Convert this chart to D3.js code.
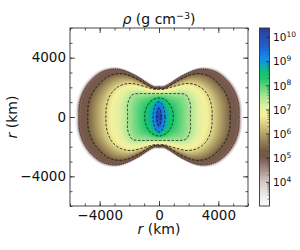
<!DOCTYPE html>
<html>
<head>
<meta charset="utf-8">
<script src="https://cdn.jsdelivr.net/npm/d3@7"></script>
<style>
body { margin: 0; background: #fff; }
svg { font-family: "DejaVu Sans", sans-serif; }
</style>
</head>
<body>
<div id="chart"></div>
<script>
// contour shapes: radius (km) at polar angles of the first quadrant, mirrored to the others
var angles = [0, 10, 20, 30, 40, 50, 60, 70, 80, 90];
var levels = [3.0, 4.85, 5.35, 6.5, 7.5, 8.3, 8.95, 9.7];   // log10 rho of each shape
var centerLevel = 10.3;
var edgeR = [5640, 5670, 5590, 5390, 5060, 4430, 3460, 2680, 2250, 2190];
var c48R  = [5400, 5430, 5350, 5150, 4820, 4200, 3250, 2480, 2080, 2030];
var c53R  = [4800, 4830, 4760, 4580, 4330, 3800, 2950, 2270, 1950, 1930];
var c65R  = [3580, 3610, 3620, 3550, 3330, 2950, 2450, 2100, 1900, 1850];
var c75R  = [2120, 2150, 2260, 2330, 2340, 2060, 1820, 1680, 1600, 1580];
var c83R  = [970, 976, 995, 1026, 1068, 1120, 1176, 1228, 1266, 1280];
var c90R  = [400, 405, 421, 450, 496, 564, 662, 796, 944, 1020];
var c97R  = [150, 152, 159, 171, 191, 223, 274, 357, 487, 580];

// colour map (log10 rho -> colour)
var cmapLevels = [3.0, 3.5, 4.0, 4.5, 5.0, 5.3, 5.6, 6.0, 6.4, 6.75, 7.1, 7.5, 7.9, 8.3, 8.6, 8.9, 9.2, 9.6, 10.0, 10.37];
var cmapColors = ["#fbfbfb", "#ece8e8", "#d3c7c5", "#a89089", "#77584d", "#745a45", "#8f7a52", "#b5a468",
                  "#d9cf86", "#f5f19a", "#e2f0a2", "#b0e696", "#6bd67d", "#1ec56a", "#12be7c", "#0c9fd0",
                  "#1285ee", "#1f62cc", "#2a4cb3", "#2a3c95"];

var axisDomain = [-6000, 6000];
var majorTicks = [-4000, 0, 4000];
var minorTicks = d3.range(-6000, 6001, 1000);
var cbDomain = [1e3, Math.pow(10, 10.37)];
var cbTicks = [1e4, 1e5, 1e6, 1e7, 1e8, 1e9, 1e10];

var shapes = [edgeR, c48R, c53R, c65R, c75R, c83R, c90R, c97R];

var plot = { left: 70, top: 28, size: 178 };
var bar = { left: 259.5, width: 10 };

var svg = d3.select("#chart").append("svg")
    .attr("width", 300)
    .attr("height", 250);

var x = d3.scaleLinear().domain(axisDomain).range([plot.left, plot.left + plot.size]);
var y = d3.scaleLinear().domain(axisDomain).range([plot.top + plot.size, plot.top]);

var color = d3.scaleLinear().domain(cmapLevels).range(cmapColors)
    .interpolate(d3.interpolateRgb).clamp(true);

// Catmull-Rom in angle, with mirror symmetry at 0 and 90 degrees
function radiusAt(rs, deg) {
    var t = deg / 10, i = Math.min(Math.floor(t), angles.length - 2), f = t - i;
    function at(k) { if (k < 0) k = -k; if (k > 9) k = 18 - k; return rs[k]; }
    var p0 = at(i - 1), p1 = at(i), p2 = at(i + 1), p3 = at(i + 2);
    return 0.5 * (2 * p1 + (-p0 + p2) * f + (2 * p0 - 5 * p1 + 4 * p2 - p3) * f * f +
        (-p0 + 3 * p1 - 3 * p2 + p3) * f * f * f);
}

function quadAngle(px, py) {
    var a = Math.abs(Math.atan2(py, px)) * 180 / Math.PI;
    return a > 90 ? 180 - a : a;
}

function valueAt(px, py) {
    var r = Math.hypot(px, py);
    var q = quadAngle(px, py);
    var radii = shapes.map(function(s) { return radiusAt(s, q); });
    if (r >= radii[0]) return null;
    for (var k = 0; k < radii.length - 1; k++) {
        if (r >= radii[k + 1]) {
            return levels[k] + (levels[k + 1] - levels[k]) * (radii[k] - r) / (radii[k] - radii[k + 1]);
        }
    }
    var last = radii.length - 1;
    return levels[last] + (centerLevel - levels[last]) * (1 - r / radii[last]);
}

// density image
var canvas = document.createElement("canvas");
canvas.width = plot.size;
canvas.height = plot.size;
var ctx = canvas.getContext("2d");
var img = ctx.createImageData(plot.size, plot.size);
for (var j = 0; j < plot.size; j++) {
    for (var i = 0; i < plot.size; i++) {
        var v = valueAt(x.invert(plot.left + i + 0.5), y.invert(plot.top + j + 0.5));
        var idx = (j * plot.size + i) * 4;
        if (v === null) { img.data[idx + 3] = 0; continue; }
        var c = d3.rgb(color(v));
        img.data[idx] = c.r; img.data[idx + 1] = c.g; img.data[idx + 2] = c.b; img.data[idx + 3] = 255;
    }
}
ctx.putImageData(img, 0, 0);

svg.append("image")
    .attr("x", plot.left).attr("y", plot.top)
    .attr("width", plot.size).attr("height", plot.size)
    .attr("href", canvas.toDataURL());

// contour lines
var line = d3.line().curve(d3.curveLinearClosed);
shapes.slice(1).forEach(function(s, k) {
    var pts = d3.range(0, 360, 1).map(function(d) {
        var a = d * Math.PI / 180;
        var px = Math.cos(a), py = Math.sin(a);
        var r = radiusAt(s, quadAngle(px, py));
        return [x(r * px), y(r * py)];
    });
    svg.append("path")
        .attr("d", line(pts))
        .attr("fill", "none")
        .attr("stroke", "#111")
        .attr("stroke-width", k === 0 ? 0.7 : 0.85)
        .attr("stroke-dasharray", k === 0 ? "1,1.2" : "2.6,1.6");
});

// axes, ticks pointing inward on all four sides
var fmt = d3.format("d");
function addAxis(axisFn, scale, transform, ticks, size, labels) {
    var ax = axisFn(scale).tickValues(ticks).tickSize(-size).tickPadding(4);
    ax.tickFormat(labels ? fmt : "");
    var g = svg.append("g").attr("transform", transform).call(ax);
    g.select(".domain").remove();
    g.selectAll("line").attr("stroke", "#222").attr("stroke-width", 0.8);
    g.selectAll("text").attr("font-size", "13.5px").attr("fill", "#111")
        .attr("font-family", "DejaVu Sans, sans-serif");
    return g;
}
var bottomY = plot.top + plot.size, rightX = plot.left + plot.size;
addAxis(d3.axisBottom, x, "translate(0," + bottomY + ")", minorTicks, 2.5, false);
addAxis(d3.axisBottom, x, "translate(0," + bottomY + ")", majorTicks, 5, true);
addAxis(d3.axisTop, x, "translate(0," + plot.top + ")", minorTicks, 2.5, false);
addAxis(d3.axisTop, x, "translate(0," + plot.top + ")", majorTicks, 5, false);
addAxis(d3.axisLeft, y, "translate(" + plot.left + ",0)", minorTicks, 2.5, false);
addAxis(d3.axisLeft, y, "translate(" + plot.left + ",0)", majorTicks, 5, true);
addAxis(d3.axisRight, y, "translate(" + rightX + ",0)", minorTicks, 2.5, false);
addAxis(d3.axisRight, y, "translate(" + rightX + ",0)", majorTicks, 5, false);

svg.append("rect")
    .attr("x", plot.left).attr("y", plot.top)
    .attr("width", plot.size).attr("height", plot.size)
    .attr("fill", "none").attr("stroke", "#333").attr("stroke-width", 0.9);

// axis titles
var xl = svg.append("text").attr("x", x(0)).attr("y", 234)
    .attr("text-anchor", "middle").attr("font-size", "14px").attr("fill", "#111");
xl.append("tspan").attr("font-style", "italic").text("r");
xl.append("tspan").text(" (km)");

var yl = svg.append("text").attr("transform", "translate(17," + y(0) + ") rotate(-90)")
    .attr("text-anchor", "middle").attr("font-size", "14px").attr("fill", "#111");
yl.append("tspan").attr("font-style", "italic").text("r");
yl.append("tspan").text(" (km)");

var title = svg.append("text").attr("x", x(0)).attr("y", 24)
    .attr("text-anchor", "middle").attr("font-size", "14px").attr("fill", "#111");
title.append("tspan").attr("font-style", "italic").text("ρ");
title.append("tspan").text(" (g cm");
title.append("tspan").attr("font-size", "9.5px").attr("dy", -5.5).text("−3");
title.append("tspan").attr("dy", 5.5).text(")");

// colour bar
var cb = d3.scaleLog().domain(cbDomain).range([plot.top + plot.size, plot.top]);
var grad = svg.append("defs").append("linearGradient")
    .attr("id", "cbgrad").attr("x1", 0).attr("y1", 1).attr("x2", 0).attr("y2", 0);
var lo = Math.log10(cbDomain[0]), hi = Math.log10(cbDomain[1]);
cmapLevels.forEach(function(l, k) {
    grad.append("stop").attr("offset", (l - lo) / (hi - lo)).attr("stop-color", cmapColors[k]);
});
svg.append("rect")
    .attr("x", bar.left).attr("y", plot.top)
    .attr("width", bar.width).attr("height", plot.size)
    .attr("fill", "url(#cbgrad)")
    .attr("stroke", "#333").attr("stroke-width", 0.9);

var cbMinor = [];
d3.range(3, 11).forEach(function(e) {
    d3.range(2, 10).forEach(function(m) {
        var v = m * Math.pow(10, e);
        if (v <= cbDomain[1]) cbMinor.push(v);
    });
});
var barRight = bar.left + bar.width;
var gMinor = svg.append("g").attr("transform", "translate(" + barRight + ",0)")
    .call(d3.axisRight(cb).tickValues(cbMinor).tickSize(-2).tickFormat(""));
gMinor.select(".domain").remove();
gMinor.selectAll("line").attr("stroke", "#444").attr("stroke-width", 0.6);

var gMajor = svg.append("g").attr("transform", "translate(" + barRight + ",0)")
    .call(d3.axisRight(cb).tickValues(cbTicks).tickSize(-3.5).tickPadding(3.5).tickFormat(""));
gMajor.select(".domain").remove();
gMajor.selectAll("line").attr("stroke", "#222").attr("stroke-width", 0.8);
gMajor.selectAll(".tick").append("text")
    .attr("x", 3.5).attr("dy", "0.36em")
    .attr("font-size", "10.5px").attr("fill", "#111")
    .attr("font-family", "DejaVu Sans, sans-serif")
    .each(function(d) {
        var t = d3.select(this);
        t.append("tspan").text("10");
        t.append("tspan").attr("font-size", "7.5px").attr("dy", "-0.55em").text(Math.round(Math.log10(d)));
    });
</script>
</body>
</html>
